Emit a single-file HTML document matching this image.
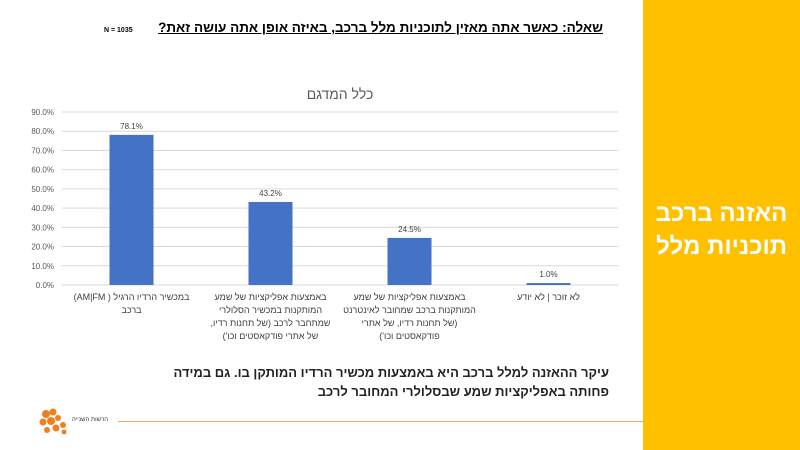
<!DOCTYPE html>
<html><head><meta charset="utf-8">
<style>
body{margin:0;width:800px;height:450px;overflow:hidden;background:#fff;font-family:"Liberation Sans","Noto Sans CJK SC",sans-serif;position:relative}
.abs{position:absolute}
</style></head><body>
<div class="abs" style="left:643px;top:0;width:157px;height:450px;background:#FFC000"></div>
<div class="abs" dir="rtl" style="left:643px;top:197px;width:157px;text-align:center;color:#fff;font-size:24px;font-weight:bold;line-height:33px">האזנה ברכב<br>תוכניות מלל</div>
<div class="abs" dir="rtl" style="right:197px;top:20px;font-size:13.5px;font-weight:bold;text-decoration:underline;color:#000;white-space:nowrap">שאלה: כאשר אתה מאזין לתוכניות מלל ברכב, באיזה אופן אתה עושה זאת?</div>
<div class="abs" style="left:104px;top:27px;font-size:7px;font-weight:bold;color:#000">N = 1035</div>
<div class="abs" dir="rtl" style="left:280px;top:86px;width:120px;text-align:center;font-size:14px;color:#595959">כלל המדגם</div>
<svg class="abs" style="left:0;top:0" width="643" height="450" id="chart"></svg>
<div class="abs" dir="rtl" style="right:191px;top:363px;width:490px;font-size:13px;font-weight:bold;color:#222;line-height:19px">עיקר ההאזנה למלל ברכב היא באמצעות מכשיר הרדיו המותקן בו. גם במידה<br>פחותה באפליקציות שמע שבסלולרי המחובר לרכב</div>
<div class="abs" style="left:118px;top:421px;width:525px;height:1px;background:#F0A860"></div>
<svg class="abs" style="left:38px;top:406px" width="80" height="30">
<g fill="#F07F1E"><circle cx="8" cy="8" r="4"/><circle cx="15" cy="6" r="3.5"/><circle cx="5" cy="16" r="3.5"/><circle cx="13" cy="15" r="4"/><circle cx="20" cy="12" r="3"/><circle cx="9" cy="24" r="3"/><circle cx="18" cy="22" r="3.5"/><circle cx="25" cy="19" r="3"/><circle cx="26" cy="26" r="2.5"/></g>
<text x="34" y="15" font-size="6" fill="#333" font-family="Liberation Sans, Noto Sans CJK SC, sans-serif">הרשות השנייה</text>
</svg>
<script>
const categories=["במכשיר הרדיו הרגיל (AM|FM) ברכב","באמצעות אפליקציות של שמע המותקנות במכשיר הסלולרי שמתחבר לרכב (של תחנות רדיו, של אתרי פודקאסטים וכו')","באמצעות אפליקציות של שמע המותקנות ברכב שמחובר לאינטרנט (של תחנות רדיו, של אתרי פודקאסטים וכו')","לא זוכר | לא יודע"];
const labelLines=[["במכשיר הרדיו הרגיל ( AM|FM)","ברכב"],["באמצעות אפליקציות של שמע","המותקנות במכשיר הסלולרי","שמתחבר לרכב (של תחנות רדיו,","של אתרי פודקאסטים וכו')"],["באמצעות אפליקציות של שמע","המותקנות ברכב שמחובר לאינטרנט","(של תחנות רדיו, של אתרי","פודקאסטים וכו')"],["לא זוכר | לא יודע"]];
const values=[78.1,43.2,24.5,1.0];
const ticks=[0,10,20,30,40,50,60,70,80,90];
const svg=document.getElementById('chart');
const NS='http://www.w3.org/2000/svg';
const x0=62,x1=618,y0=285,y90=112;
const y=v=>y0-(v/90)*(y0-y90);
const band=(x1-x0)/categories.length;
const xc=i=>x0+band*(i+0.5);
function mk(t,a){const e=document.createElementNS(NS,t);for(const k in a)e.setAttribute(k,a[k]);svg.appendChild(e);return e;}
ticks.forEach(t=>{
  const l=mk('line',{x1:x0,x2:x1,y1:y(t),y2:y(t),stroke:'#d9d9d9','stroke-width':1});
  
  
  const tx=mk('text',{x:54,y:y(t)+3,'text-anchor':'end','font-size':8,fill:'#595959','font-family':'Liberation Sans, sans-serif'});
  tx.textContent=t.toFixed(1)+'%';
  
  
});
values.forEach((v,i)=>{
  const r=mk('rect',{x:xc(i)-22,y:y(v),width:44,height:y0-y(v),fill:'#4472C4'});
  
  
  const t=mk('text',{x:xc(i),y:y(v)-6,'text-anchor':'middle','font-size':8,fill:'#404040','font-family':'Liberation Sans, sans-serif'});
  t.textContent=v.toFixed(1)+'%';
  
  
  labelLines[i].forEach((s,j)=>{
    const c=mk('text',{x:xc(i),y:300+j*13,'text-anchor':'middle','font-size':9,fill:'#404040','font-family':'Liberation Sans, Noto Sans CJK SC, sans-serif',direction:'rtl'});
    c.textContent=s;
    
    
  });
});
</script>
</body></html>
